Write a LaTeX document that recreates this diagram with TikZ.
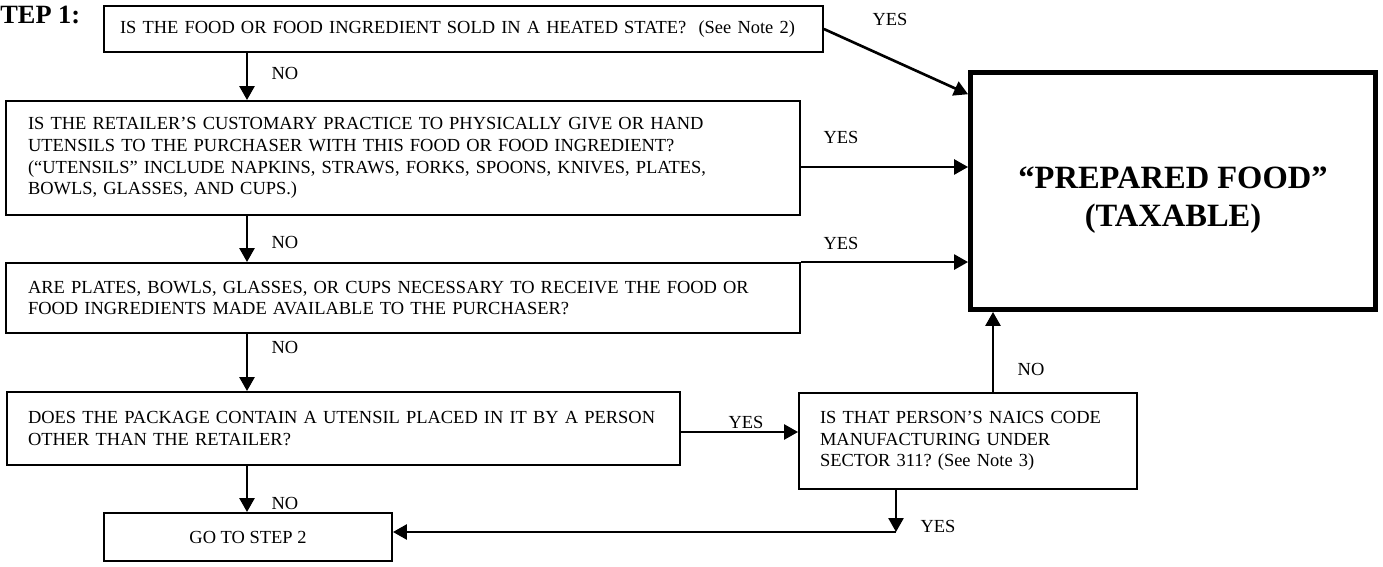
\documentclass[tikz,border=0pt]{standalone}
\usepackage{fontspec}
\setmainfont{Liberation Serif}
\usetikzlibrary{arrows.meta,calc}
\frenchspacing

\tikzset{
  box/.style={draw, line width=1.1pt, align=left, inner ysep=0pt,
    font=\fontsize{10.5}{12.4}\selectfont},
  bigbox/.style={draw, line width=2.8pt},
  bigtext/.style={align=center, inner sep=0pt,
    font=\fontsize{18.5}{22}\selectfont\bfseries},
  lbl/.style={inner sep=0pt, font=\fontsize{10.5}{12}\selectfont},
  arr/.style={line width=1.5pt, -{Triangle[length=0.28cm,width=0.3cm]}}
}

\begin{document}
\begin{tikzpicture}[x=0.02cm, y=-0.02cm]
    \useasboundingbox (0,0) rectangle (1383,567);

    \node[anchor=west, inner sep=0pt, font=\fontsize{15}{18}\selectfont\bfseries] (step) at (0,15) {TEP 1:};

    \node[box, text width=13.74cm, inner xsep=0.32cm, minimum height=0.92cm] (heat) at (463.5,29)
        {IS THE FOOD OR FOOD INGREDIENT SOLD IN A HEATED STATE?~~(See Note 2)};
    \node[box, text width=15cm, inner xsep=0.44cm, minimum height=2.28cm] (hand) at (403,158)
        {IS THE RETAILER’S CUSTOMARY PRACTICE TO PHYSICALLY GIVE OR HAND\\
         UTENSILS TO THE PURCHASER WITH THIS FOOD OR FOOD INGREDIENT?\\
         (“UTENSILS” INCLUDE NAPKINS, STRAWS, FORKS, SPOONS, KNIVES, PLATES,\\
         BOWLS, GLASSES, AND CUPS.)};
    \node[box, text width=15cm, inner xsep=0.44cm, minimum height=1.4cm] (plates) at (403,298)
        {ARE PLATES, BOWLS, GLASSES, OR CUPS NECESSARY TO RECEIVE THE FOOD OR\\
         FOOD INGREDIENTS MADE AVAILABLE TO THE PURCHASER?};
    \node[box, text width=12.62cm, inner xsep=0.42cm, minimum height=1.46cm] (pkg) at (343.5,428.5)
        {DOES THE PACKAGE CONTAIN A UTENSIL PLACED IN IT BY A PERSON\\
         OTHER THAN THE RETAILER?};
    \node[box, align=center, minimum width=5.76cm, minimum height=0.96cm] (step2) at (248,537) {GO TO STEP 2};
    \node[box, text width=5.92cm, inner xsep=0.42cm, minimum height=1.92cm] (naics) at (968,441)
        {IS THAT PERSON’S NAICS CODE\\
         MANUFACTURING UNDER\\
         SECTOR 311? (See Note 3)};
    \node[bigbox, minimum width=8.1cm, minimum height=4.74cm] (prep) at (1173,191) {};
    \node[bigtext] (preptext) at (1173,200) {“PREPARED FOOD”\\(TAXABLE)};

    % answers
    \node[lbl] (no1) at (285,73) {NO};
    \node[lbl] (no2) at (285,242) {NO};
    \node[lbl] (no3) at (285,347) {NO};
    \node[lbl] (no4) at (285,503) {NO};
    \node[lbl] (yes1) at (890,19) {YES};
    \node[lbl] (yes2) at (841,137) {YES};
    \node[lbl] (yes3) at (841,243) {YES};
    \node[lbl] (yes4) at (746,422) {YES};
    \node[lbl] (no5) at (1031,369) {NO};
    \node[lbl] (yes5) at (938,526) {YES};

    \coordinate (col) at (247,0);
    \coordinate (r2) at (0,167);
    \coordinate (r4) at (0,432);
    \coordinate (up) at (993,0);
    \coordinate (bend) at (896,532);

    \draw[arr] (heat.south -| col) -- (hand.north -| col);
    \draw[arr] (hand.south -| col) -- (plates.north -| col);
    \draw[arr] (plates.south -| col) -- (pkg.north -| col);
    \draw[arr] (pkg.south -| col) -- (step2.north -| col);

    \draw[arr] (heat.east) -- ($(prep.north west)!0.1!(prep.south west)$);
    \draw[arr] (hand.east |- r2) -- (prep.west |- r2);
    \draw[arr] (plates.north east) -- (prep.west |- plates.north east);
    \draw[arr] (pkg.east |- r4) -- (naics.west |- r4);
    \draw[arr] (naics.north -| up) -- (prep.south -| up);
    \draw[arr] (naics.south -| bend) -- (bend);
    \draw[arr] (bend) -- (bend -| step2.east);

\end{tikzpicture}
\end{document}
